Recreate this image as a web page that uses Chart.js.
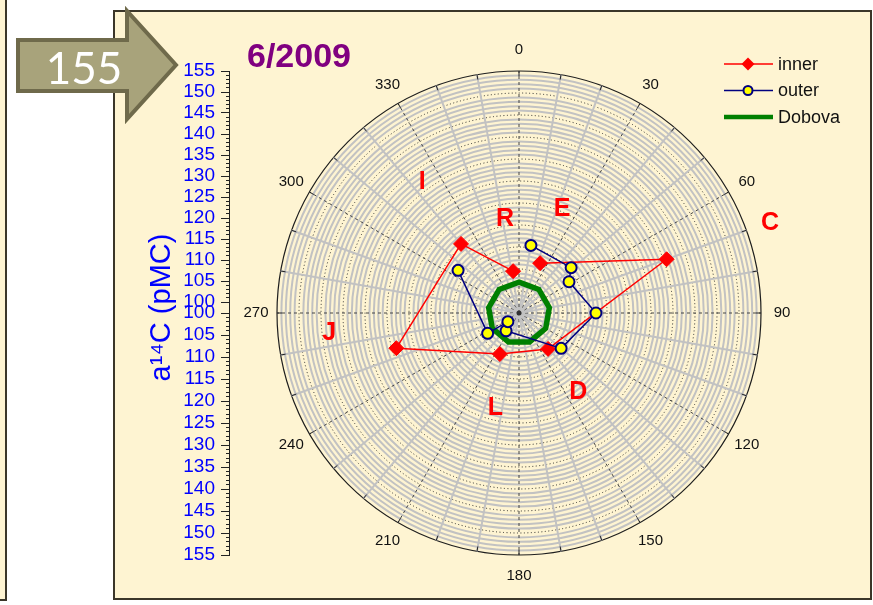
<!DOCTYPE html>
<html>
<head>
<meta charset="utf-8">
<title>a14C polar plot 6/2009</title>
<script src="https://cdn.jsdelivr.net/npm/chart.js@4/dist/chart.umd.min.js"></script>
<style>
  html, body { margin: 0; padding: 0; background: #fff; }
  #page { position: relative; width: 873px; height: 605px; overflow: hidden; }
  .card { position: absolute; background: #fef4d2; border: 2px solid #3b3629; }
  #leftCard { left: -4px; top: -4px; width: 7px; height: 601px; }
  #panel { left: 113px; top: 10px; width: 755px; height: 586px; }
  #chart { position: absolute; left: 0; top: 0; }
  #arrow { position: absolute; left: 0; top: 0; }
</style>
</head>
<body>
<div id="page">
  <div class="card" id="leftCard"></div>
  <div class="card" id="panel"></div>
  <canvas id="chart" width="873" height="605"></canvas>
  <svg id="arrow" width="200" height="130">
    <polygon points="18,40 127,40 127,11 176,65 127,119 127,91 18,91"
             fill="#a8a37b" stroke="#6f6a4b" stroke-width="4"/>
    <text x="84" y="67" fill="#fff" font-family="Lato, 'Open Sans', sans-serif" font-size="44"
          text-anchor="middle" dominant-baseline="central">155</text>
  </svg>
</div>
<script>
// One category per degree, 0 = north, clockwise
const degrees = Array.from({ length: 360 }, (_, i) => i);

// a14C (pMC) by direction
const innerAngles = [23, 70, 141, 205, 254, 320, 352];
const innerValues = [112.3, 135.7, 110.5, 110.3, 129.0, 120.5, 109.6];
const outerAngles = [10, 49, 58, 90, 130, 216, 232, 237, 305];
const outerValues = [115.6, 115.7, 113.4, 117.5, 112.5, 105.0, 103.2, 108.5, 116.9];
const dobovaAngles = [0, 40, 80, 120, 160, 200, 240, 280, 320];
const dobovaValues = [107, 107, 107, 107, 107, 107, 107, 107, 107];

// tick labels
const angleTicks = ['0', '30', '60', '90', '120', '150', '180', '210', '240', '270', '300', '330'];

// site letters (direction, pMC radius)
const siteNames = ['E', 'C', 'D', 'L', 'J', 'I', 'R'];
const siteAngles = [22.5, 70.3, 143, 194, 264, 323.5, 351.5];
const siteValues = [125.6, 160.6, 122.4, 122.2, 143.4, 137, 121.6];

const RED = '#ff0000';
const NAVY = '#000080';
const GREEN = '#008000';
const BLUE = '#0000ff';
const FONT = "'Liberation Sans', Arial, sans-serif";

Chart.defaults.font.family = FONT;

const rad = d => d * Math.PI / 180;

function spread(angles, values) {
  const row = degrees.map(() => null);
  angles.forEach((a, i) => { row[a % 360] = values[i]; });
  return row;
}

// radar lines always close, so open polylines are drawn piece by piece
function pathPieces(angles, values, color) {
  const pieces = [];
  for (let i = 0; i < angles.length - 1; i++) {
    pieces.push({
      data: spread(angles.slice(i, i + 2), values.slice(i, i + 2)),
      borderColor: color,
      borderWidth: 1.5,
      pointRadius: 0,
      fill: false,
      spanGaps: true
    });
  }
  return pieces;
}

const datasets = [
  {
    label: 'outer',
    data: spread(outerAngles, outerValues),
    showLine: false,
    pointStyle: 'circle',
    pointRadius: 5.5,
    pointHoverRadius: 5.5,
    pointBorderWidth: 2,
    pointBackgroundColor: '#ffff00',
    pointBorderColor: NAVY,
    fill: false
  },
  ...pathPieces(outerAngles, outerValues, NAVY),
  {
    label: 'inner',
    data: spread(innerAngles, innerValues),
    showLine: false,
    pointStyle: 'rectRot',
    pointRadius: 7.5,
    pointHoverRadius: 7.5,
    pointBorderWidth: 1,
    pointBackgroundColor: RED,
    pointBorderColor: RED,
    fill: false
  },
  ...pathPieces(innerAngles, innerValues, RED),
  {
    label: 'Dobova',
    data: spread(dobovaAngles, dobovaValues),
    borderColor: GREEN,
    borderWidth: 5.5,
    pointRadius: 0,
    fill: false,
    spanGaps: true
  }
];

const legendItems = [
  { text: 'inner', color: RED, width: 1.5, marker: 'diamond' },
  { text: 'outer', color: NAVY, width: 1.5, marker: 'circle' },
  { text: 'Dobova', color: GREEN, width: 4.5, marker: null }
];

// left scale: 155 ... 100 | 100 ... 155
function sideAxis(reverse, weight) {
  return {
    type: 'linear',
    position: 'left',
    stack: 'left',
    stackWeight: weight,
    reverse: reverse,
    min: 100,
    max: 155,
    afterFit: s => { s.width = 84; },
    border: { color: '#222', width: 1 },
    grid: {
      drawOnChartArea: false,
      tickLength: 8,
      color: '#222',
      tickBorderDash: c => (c.tick && c.tick.value % 5 !== 0) ? [0, 5, 3, 10] : []
    },
    ticks: {
      stepSize: 1,
      autoSkip: false,
      padding: 6,
      color: BLUE,
      font: { size: 19 },
      callback: v => (v % 5 === 0 ? String(v) : '')
    }
  };
}

const polarExtras = {
  id: 'polarExtras',
  beforeDatasetsDraw(chart) {
    const { ctx } = chart;
    const r = chart.scales.r;
    ctx.save();
    ctx.strokeStyle = '#222';
    ctx.lineWidth = 1;
    ctx.beginPath();
    for (let a = 0; a < 360; a += 10) {
      const p1 = r.getPointPosition(0, r.drawingArea, rad(a));
      const p2 = r.getPointPosition(0, r.drawingArea - 5, rad(a));
      ctx.moveTo(p1.x, p1.y);
      ctx.lineTo(p2.x, p2.y);
    }
    ctx.stroke();
    ctx.fillStyle = '#333';
    ctx.beginPath();
    ctx.arc(r.xCenter, r.yCenter, 2.5, 0, Math.PI * 2);
    ctx.fill();
    ctx.restore();
  },
  afterDraw(chart) {
    const { ctx } = chart;
    const r = chart.scales.r;
    ctx.save();
    ctx.textAlign = 'center';
    ctx.textBaseline = 'middle';

    // direction labels
    ctx.fillStyle = '#111';
    ctx.font = '15px ' + FONT;
    angleTicks.forEach(t => {
      const p = r.getPointPosition(0, r.drawingArea + 21, rad(Number(t)));
      ctx.fillText(t, p.x, p.y);
    });

    // site letters
    ctx.fillStyle = RED;
    ctx.font = 'bold 25px ' + FONT;
    siteNames.forEach((s, i) => {
      const p = r.getPointPosition(0, r.getDistanceFromCenterForValue(siteValues[i]), rad(siteAngles[i]));
      ctx.fillText(s, p.x, p.y);
    });

    // title
    ctx.textAlign = 'left';
    ctx.fillStyle = '#800080';
    ctx.font = 'bold 34px ' + FONT;
    ctx.fillText('6/2009', 247, 58);

    // legend
    ctx.font = '18px ' + FONT;
    legendItems.forEach((item, i) => {
      const y = 64 + i * 26.5;
      ctx.strokeStyle = item.color;
      ctx.lineWidth = item.width;
      ctx.beginPath();
      ctx.moveTo(724, y);
      ctx.lineTo(773, y);
      ctx.stroke();
      if (item.marker === 'diamond') {
        ctx.fillStyle = item.color;
        ctx.beginPath();
        ctx.moveTo(748, y - 6.5);
        ctx.lineTo(754.5, y);
        ctx.lineTo(748, y + 6.5);
        ctx.lineTo(741.5, y);
        ctx.closePath();
        ctx.fill();
      } else if (item.marker === 'circle') {
        ctx.fillStyle = '#ffff00';
        ctx.lineWidth = 2;
        ctx.beginPath();
        ctx.arc(748, y, 4.5, 0, Math.PI * 2);
        ctx.fill();
        ctx.stroke();
      }
      ctx.fillStyle = '#111';
      ctx.fillText(item.text, 778, y + 1);
    });
    ctx.restore();
  }
};

new Chart(document.getElementById('chart'), {
  type: 'radar',
  data: { labels: degrees, datasets },
  options: {
    responsive: false,
    animation: false,
    devicePixelRatio: 1,
    events: [],
    layout: { padding: { left: 145, right: 64, top: 71, bottom: 50 } },
    plugins: { legend: { display: false }, tooltip: { enabled: false } },
    elements: { line: { tension: 0 } },
    scales: {
      r: {
        min: 100,
        max: 155,
        startAngle: 0,
        ticks: { display: false, stepSize: 1 },
        pointLabels: { display: false },
        grid: {
          circular: true,
          color: c => (c.tick.value === 155 ? '#1e1e1e' : (c.tick.value % 5 === 0 ? '#2a2a2a' : '#c2c2c2')),
          lineWidth: c => (c.tick.value === 155 ? 1.2 : (c.tick.value % 5 === 0 ? 1 : 2)),
          borderDash: c => ((c.tick && c.tick.value % 5 === 0 && c.tick.value < 155) ? [1, 2.5] : [])
        },
        border: {
          dash: c => ((c.tick && c.tick.value % 5 === 0 && c.tick.value < 155) ? [1, 2.5] : [])
        },
        angleLines: {
          color: c => (c.index % 30 === 0 ? '#444' : (c.index % 10 === 0 ? '#c2c2c2' : 'rgba(0,0,0,0)')),
          lineWidth: c => (c.index % 10 === 0 ? (c.index % 30 === 0 ? 1 : 2) : 0),
          borderDash: c => (c.index % 30 === 0 ? [3, 3] : [])
        }
      },
      yBot: sideAxis(true, 242),
      yGap: {
        type: 'linear',
        position: 'left',
        stack: 'left',
        stackWeight: 11,
        min: 0,
        max: 1,
        afterFit: s => { s.width = 84; },
        border: { color: '#222', width: 1 },
        grid: { display: false },
        ticks: { display: false },
        title: {
          display: true,
          text: 'a\u00b9\u2074C (pMC)',
          color: BLUE,
          font: { size: 29 },
          padding: 0
        }
      },
      yTop: sideAxis(false, 231)
    }
  },
  plugins: [polarExtras]
});
</script>
</body>
</html>
